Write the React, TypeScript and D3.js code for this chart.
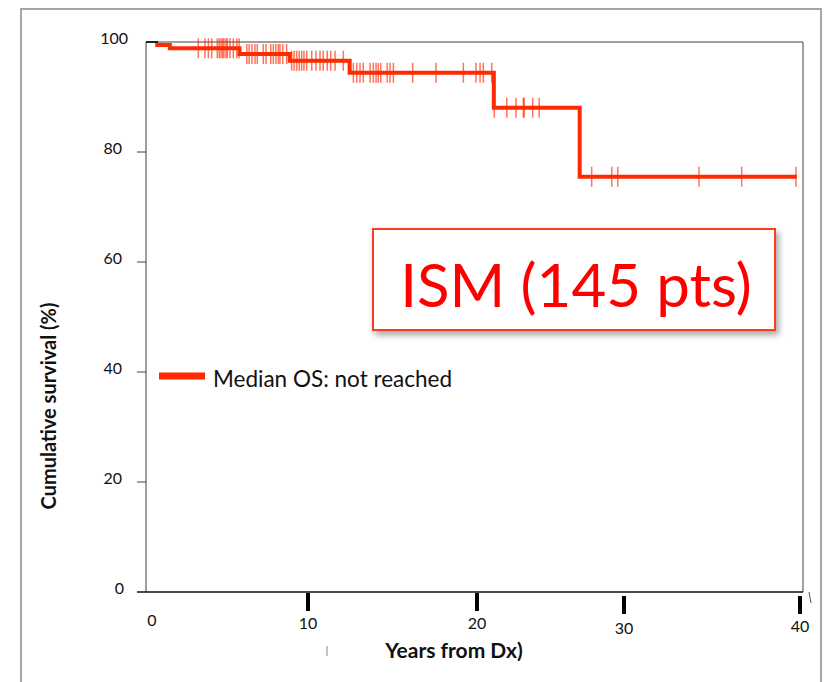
import React from "react";
import * as d3 from "d3";

// Kaplan-Meier steps (years from diagnosis, cumulative survival %)
const stepTimes = [0.2, 1.1, 5.4, 8.5, 12.2, 21.1, 26.4];
const stepSurvival = [99.45, 98.85, 97.8, 96.6, 94.4, 88.05, 75.5];
const followUpEnd = 39.8;

// censored observations (years)
const censorTimes = [
  2.86, 3.27, 3.48, 3.69, 4.03, 4.15, 4.26, 4.36, 4.44, 4.57, 4.65, 4.81, 5.02, 5.23, 5.38,
  5.85, 6.0, 6.17, 6.36, 6.5, 6.87, 7.04, 7.33, 7.49, 7.65, 7.8, 7.9, 8.07, 8.31,
  8.62, 8.77, 8.93, 9.09, 9.24, 9.38, 9.55, 9.86, 10.12, 10.37, 10.57, 10.82, 11.03, 11.3, 11.81,
  12.43, 12.64, 12.84, 13.04, 13.46, 13.66, 13.83, 13.97, 14.12, 14.52, 14.69, 14.9, 16.09,
  17.53, 19.22, 20.0, 20.25, 20.45, 20.97,
  21.13, 21.9, 22.47, 22.92, 22.98, 23.5, 23.9,
  27.14, 28.38, 28.75, 33.77, 36.4, 39.75,
];

const xTicks = [0, 10, 20, 30, 40];
const yTicks = [0, 20, 40, 60, 80, 100];

const xTitle = "Years from Dx)";
const yTitle = "Cumulative survival (%)";
const legendLabel = "Median OS: not reached";
const boxLabel = "ISM (145 pts)";

const FONT = "Lato, 'Open Sans', sans-serif";
const RED = "#ff2a00";

export default function App() {
  const x = d3.scaleLinear().domain([0, 40]).range([152, 800]);
  const y = d3.scaleLinear().domain([0, 100]).range([592, 42]);

  const pts: [number, number][] = stepTimes.map((t, i) => [t, stepSurvival[i]]);
  pts.push([followUpEnd, stepSurvival[stepSurvival.length - 1]]);
  const line = d3
    .line<[number, number]>()
    .x((d) => x(d[0]))
    .y((d) => y(d[1]))
    .curve(d3.curveStepAfter);

  const survAt = (t: number) => {
    let s = stepSurvival[0];
    stepTimes.forEach((st, i) => {
      if (st <= t) s = stepSurvival[i];
    });
    return s;
  };

  const left = 146;
  const right = 803;
  const top = y(100);
  const bottom = y(0);

  // hand-placed x tick marks in the reference (px nudges)
  const xTickNudge = [0, -6, 1, -14, 0];
  const xTickTop = [0, 593, 593, 596, 596];
  const xLabelBase = [626, 629, 629, 634, 632];

  return (
    <svg
      width={825}
      height={682}
      style={{ position: "absolute", left: 0, top: 0, background: "#fff" }}
    >
      <defs>
        <filter id="shadow" x="-10%" y="-20%" width="130%" height="150%">
          <feDropShadow dx="3" dy="4" stdDeviation="3" floodColor="#000" floodOpacity="0.35" />
        </filter>
      </defs>
      {/* outer frame */}
      <rect x={21} y={9} width={800} height={690} fill="none" stroke="#a6a6a6" strokeWidth={2} />

      {/* plot box */}
      <line x1={left} x2={right} y1={top} y2={top} stroke="#7f7f7f" strokeWidth={1.5} />
      <line x1={right} x2={right} y1={top} y2={bottom} stroke="#7f7f7f" strokeWidth={1.5} />
      <line x1={left} x2={left} y1={top} y2={bottom} stroke="#7f7f7f" strokeWidth={1.5} />
      <line x1={left} x2={158} y1={top} y2={top} stroke="#222" strokeWidth={2} />
      <line x1={137} x2={right} y1={bottom} y2={bottom} stroke="#111" strokeWidth={1.5} />

      {/* y ticks */}
      {yTicks.map((v) => (
        <g key={v}>
          {v > 0 && v < 100 && (
            <line x1={137} x2={left} y1={y(v)} y2={y(v)} stroke="#444" strokeWidth={1} />
          )}
          <text
            x={v === 100 ? 128 : v === 0 ? 124 : 122}
            y={y(v) + 2}
            textAnchor="end"
            fontFamily={FONT}
            fontSize={16}
            fill="#111"
          >
            {v}
          </text>
        </g>
      ))}

      {/* x ticks */}
      {xTicks.map((v, i) => {
        const px = x(v) + xTickNudge[i];
        return (
          <g key={v}>
            {v > 0 && (
              <rect x={px - 2} y={xTickTop[i]} width={4} height={18} fill="#000" />
            )}
            <text
              x={px}
              y={xLabelBase[i]}
              textAnchor="middle"
              fontFamily={FONT}
              fontSize={16}
              fill="#111"
            >
              {v}
            </text>
          </g>
        );
      })}
      {/* small stray marks */}
      <line x1={327} x2={327} y1={646} y2={656} stroke="#888" strokeWidth={1} />
      <line x1={809} x2={811} y1={592} y2={603} stroke="#555" strokeWidth={1} />

      {/* axis titles */}
      <text
        x={454}
        y={658}
        textAnchor="middle"
        fontFamily={FONT}
        fontWeight="bold"
        fontSize={21}
        fill="#111"
      >
        {xTitle}
      </text>
      <text
        transform={`translate(56, 406) rotate(-90)`}
        textAnchor="middle"
        fontFamily={FONT}
        fontWeight="bold"
        fontSize={20}
        fill="#111"
      >
        {yTitle}
      </text>

      {/* censor marks */}
      {censorTimes.map((t, i) => (
        <line
          key={i}
          x1={x(t)}
          x2={x(t)}
          y1={y(survAt(t)) - 10}
          y2={y(survAt(t)) + 10}
          stroke={RED}
          strokeOpacity={0.65}
          strokeWidth={1.5}
        />
      ))}

      {/* KM curve */}
      <path d={line(pts) ?? ""} fill="none" stroke={RED} strokeWidth={4} />

      {/* legend */}
      <line x1={159} x2={205} y1={376} y2={376} stroke={RED} strokeWidth={7} />
      <text x={213} y={387} fontFamily={FONT} fontSize={22.5} fill="#111">
        {legendLabel}
      </text>

      {/* label box */}
      <rect
        x={373}
        y={229}
        width={402}
        height={101}
        fill="#fff"
        stroke="#ff3a1a"
        strokeWidth={2}
        filter="url(#shadow)"
      />
      <text
        x={576}
        y={307}
        textAnchor="middle"
        fontFamily={FONT}
        fontSize={60}
        fill="#ff0000"
      >
        {boxLabel}
      </text>
    </svg>
  );
}
